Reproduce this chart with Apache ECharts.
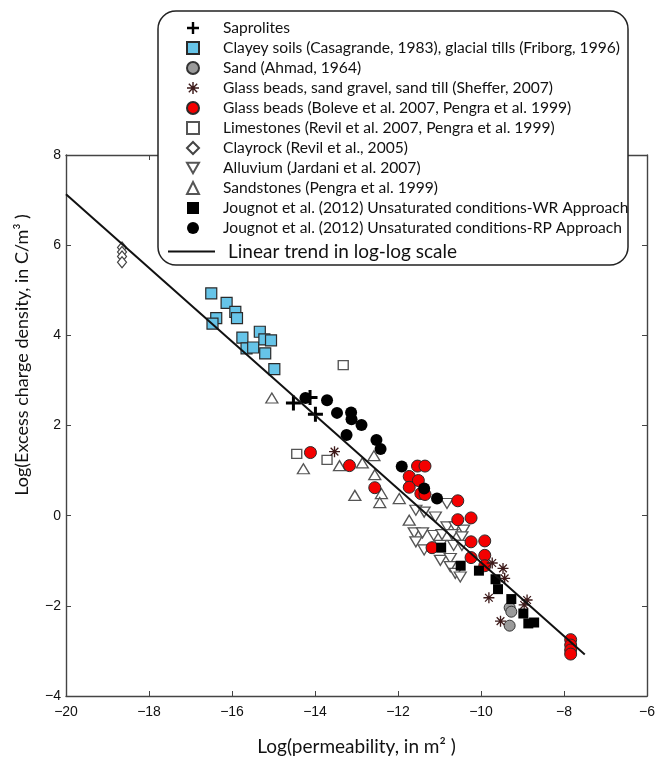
<!DOCTYPE html>
<html><head><meta charset="utf-8">
<script src="https://cdn.jsdelivr.net/npm/echarts@6/dist/echarts.min.js"></script>
<style>html,body{margin:0;padding:0;background:#fff}#c{width:658px;height:761px}</style>
</head><body><div id="c"></div>
<script>
// ---- data (log10 permeability, log10 excess charge density) ----
const xTicks = [-20, -18, -16, -14, -12, -10, -8, -6];
const yTicks = [-4, -2, 0, 2, 4, 6, 8];

const saproX = [-14.52, -14.12, -13.99];
const saproY = [2.50, 2.62, 2.25];

const clayX = [-16.50, -16.38, -16.47, -16.13, -15.92, -15.88, -15.75, -15.65, -15.49, -15.33, -15.22, -15.06, -15.20, -14.98];
const clayY = [4.93, 4.38, 4.26, 4.72, 4.52, 4.38, 3.95, 3.71, 3.73, 4.08, 3.91, 3.89, 3.60, 3.25];

const sandX = [-9.31, -9.27, -9.31];
const sandY = [-2.04, -2.13, -2.44];

const shefX = [-13.53, -9.73, -9.47, -9.43, -9.81, -8.89, -8.96, -9.53];
const shefY = [1.42, -1.05, -1.17, -1.39, -1.82, -1.87, -1.98, -2.34];

const bolX = [-14.11, -13.17, -12.56, -11.53, -11.35, -11.73, -11.51, -11.73, -11.45, -11.35, -10.56, -10.56, -10.24, -10.24, -9.91, -9.91, -10.24, -11.18, -9.91, -7.84, -7.84, -7.84, -7.84];
const bolY = [1.40, 1.11, 0.62, 1.10, 1.10, 0.87, 0.78, 0.63, 0.49, 0.47, 0.33, -0.09, -0.05, -0.58, -0.56, -0.88, -0.93, -0.71, -1.11, -2.75, -2.87, -2.98, -3.07];

const limeX = [-13.32, -14.44, -13.71];
const limeY = [3.34, 1.37, 1.24];

const crockX = [-18.65, -18.65, -18.65, -18.65];
const crockY = [5.95, 5.85, 5.75, 5.62];

const alluX = [-11.57, -11.37, -11.10, -10.82, -10.82, -10.62, -10.42, -11.61, -11.41, -11.57, -11.14, -10.94, -10.70, -10.46, -11.37, -10.98, -10.74, -10.74, -10.62, -10.50, -10.66, -10.98, -10.46];
const alluY = [0.12, 0.08, -0.03, 0.27, -0.25, -0.25, -0.32, -0.38, -0.38, -0.58, -0.44, -0.42, -0.42, -0.47, -0.76, -0.99, -0.95, -1.13, -1.28, -1.36, -0.66, -0.66, -0.66];

const sandstX = [-15.04, -14.28, -13.41, -12.86, -12.58, -12.56, -13.04, -12.40, -12.44, -11.97, -11.73];
const sandstY = [2.61, 1.04, 1.11, 1.17, 1.33, 0.91, 0.45, 0.49, 0.29, 0.38, -0.10];

const wrX = [-10.96, -10.49, -10.05, -9.65, -9.59, -9.27, -8.98, -8.86, -8.72];
const wrY = [-0.71, -1.11, -1.22, -1.41, -1.63, -1.85, -2.17, -2.39, -2.37];

const rpX = [-14.23, -13.71, -13.47, -13.13, -13.12, -12.88, -13.24, -12.52, -12.42, -11.91, -11.37, -11.06];
const rpY = [2.61, 2.56, 2.28, 2.29, 2.14, 2.01, 1.79, 1.68, 1.48, 1.09, 0.60, 0.38];

const trendX = [-20, -7.5];
const trendY = [7.13, -3.08];

const names = [
  'Saprolites',
  'Clayey soils (Casagrande, 1983), glacial tills (Friborg, 1996)',
  'Sand (Ahmad, 1964)',
  'Glass beads, sand gravel, sand till (Sheffer, 2007)',
  'Glass beads (Boleve et al. 2007, Pengra et al. 1999)',
  'Limestones (Revil et al. 2007, Pengra et al. 1999)',
  'Clayrock (Revil et al., 2005)',
  'Alluvium (Jardani et al. 2007)',
  'Sandstones (Pengra et al. 1999)',
  'Jougnot et al. (2012) Unsaturated conditions-WR Approach',
  'Jougnot et al. (2012) Unsaturated conditions-RP Approach'
];
const trendName = 'Linear trend in log-log scale';
const xTitle = 'Log(permeability, in m\u00B2 )';
const yTitle = 'Log(Excess charge density, in C/m\u00B3 )';

// ---- build ----
const zip = (xs, ys) => xs.map((x, i) => [x, ys[i]]);
const crossPath = 'path://M-1.2,-6L1.2,-6L1.2,-1.2L6,-1.2L6,1.2L1.2,1.2L1.2,6L-1.2,6L-1.2,1.2L-6,1.2L-6,-1.2L-1.2,-1.2Z';
const starPath = 'path://M-5,-0.6L5,-0.6L5,0.6L-5,0.6ZM-0.6,-5L0.6,-5L0.6,5L-0.6,5ZM-3.9,-3.1L-3.1,-3.9L3.9,3.1L3.1,3.9ZM3.1,-3.9L3.9,-3.1L-3.1,3.9L-3.9,3.1Z';
const downTri = 'path://M0,0L12,0L6,10.4Z';

function sc(name, xs, ys, symbol, size, fill, stroke, bw, z) {
  return {
    type: 'scatter', name: name, data: zip(xs, ys), symbol: symbol, symbolSize: size,
    itemStyle: { color: fill, borderColor: stroke, borderWidth: bw, opacity: 1 },
    emphasis: { disabled: true }, z: z || 2, animation: false
  };
}

const series = [
  sc(names[6], crockX, crockY, 'diamond', [9, 11], '#fff', '#444', 1.2),
  sc(names[8], sandstX, sandstY, 'triangle', [12, 10], '#fff', '#555', 1.3),
  sc(names[7], alluX, alluY, downTri, [12, 10], '#fff', '#555', 1.3),
  sc(names[5], limeX, limeY, 'rect', [10, 9], '#fff', '#555', 1.3),
  sc(names[1], clayX, clayY, 'rect', 11, '#66c4e8', '#2a2a2a', 1.2),
  sc(names[4], bolX, bolY, 'circle', 12, '#f40000', '#2a2a2a', 1),
  sc(names[2], sandX, sandY, 'circle', 11, '#9a9a9a', '#333', 1),
  sc(names[3], shefX, shefY, starPath, 11, '#3d1a1a', '#3d1a1a', 0),
  sc(names[10], rpX, rpY, 'circle', 12, '#000', '#000', 0, 3),
  sc(names[9], wrX, wrY, 'rect', 10, '#000', '#000', 0, 3),
  sc(names[0], saproX, saproY, crossPath, 15, '#000', '#000', 0, 3),
  {
    type: 'line', name: trendName, data: zip(trendX, trendY), symbol: 'none', showSymbol: false,
    lineStyle: { color: '#111', width: 2 }, itemStyle: { color: '#111' }, z: 4, animation: false,
    emphasis: { disabled: true }
  }
];

const minus = v => String(v).replace('-', '\u2212');
const tickFont = { fontFamily: 'Liberation Sans', fontSize: 14, color: '#111' };
const frameLine = { show: true, onZero: false, lineStyle: { color: '#444', width: 1.4 } };
const frameTick = { show: true, inside: true, length: 5, lineStyle: { color: '#444' } };

const chart = echarts.init(document.getElementById('c'), null, { renderer: 'canvas' });
chart.setOption({
  animation: false,
  backgroundColor: '#fff',
  grid: { left: 66, right: 4, top: 155, bottom: 63, containLabel: false },
  xAxis: [{
    type: 'value', min: xTicks[0], max: xTicks[xTicks.length - 1], interval: 2, position: 'bottom',
    axisLine: frameLine, axisTick: frameTick, splitLine: { show: false },
    axisLabel: Object.assign({ margin: 9, formatter: minus, showMaxLabel: true, showMinLabel: true }, tickFont),
    name: xTitle, nameLocation: 'middle', nameGap: 41,
    nameTextStyle: { fontFamily: 'Lato', fontSize: 19, color: '#111' }
  }, {
    type: 'value', min: xTicks[0], max: xTicks[xTicks.length - 1], interval: 2, position: 'top',
    axisLine: frameLine, axisTick: frameTick,
    axisLabel: { show: false }, splitLine: { show: false }
  }],
  yAxis: [{
    type: 'value', min: yTicks[0], max: yTicks[yTicks.length - 1], interval: 2, position: 'left',
    axisLine: frameLine, axisTick: frameTick, splitLine: { show: false },
    axisLabel: Object.assign({ margin: 5, formatter: minus, showMaxLabel: true, showMinLabel: true }, tickFont)
  }, {
    type: 'value', min: yTicks[0], max: yTicks[yTicks.length - 1], interval: 2, position: 'right',
    axisLine: frameLine, axisTick: frameTick,
    axisLabel: { show: false }, splitLine: { show: false }
  }],
  graphic: [{
    type: 'rect', z: 5, silent: true,
    shape: { x: 158, y: 11, width: 470, height: 254, r: 18 },
    style: { fill: '#fff', stroke: '#222', lineWidth: 1.5 }
  }, {
    type: 'text', z: 5, silent: true, x: 22, y: 355, rotation: Math.PI / 2,
    style: { text: yTitle, align: 'center', verticalAlign: 'middle', fontFamily: 'Lato', fontSize: 18, fill: '#111' }
  }],
  legend: [{
    data: names, orient: 'vertical', left: 186, top: 20, z: 10,
    itemWidth: 12, itemHeight: 12, itemGap: 4,
    selectedMode: false, padding: 0,
    textStyle: { fontFamily: 'Lato', fontSize: 15.6, color: '#111', padding: [0, 0, 0, 19] }
  }, {
    data: [{ name: trendName, icon: 'rect' }], orient: 'vertical', left: 168, top: 242, z: 10,
    itemWidth: 47, itemHeight: 2, selectedMode: false, padding: 0,
    textStyle: { fontFamily: 'Lato', fontSize: 19, color: '#111', padding: [0, 0, 0, 8] }
  }],
  series: series
});
</script>
</body></html>
